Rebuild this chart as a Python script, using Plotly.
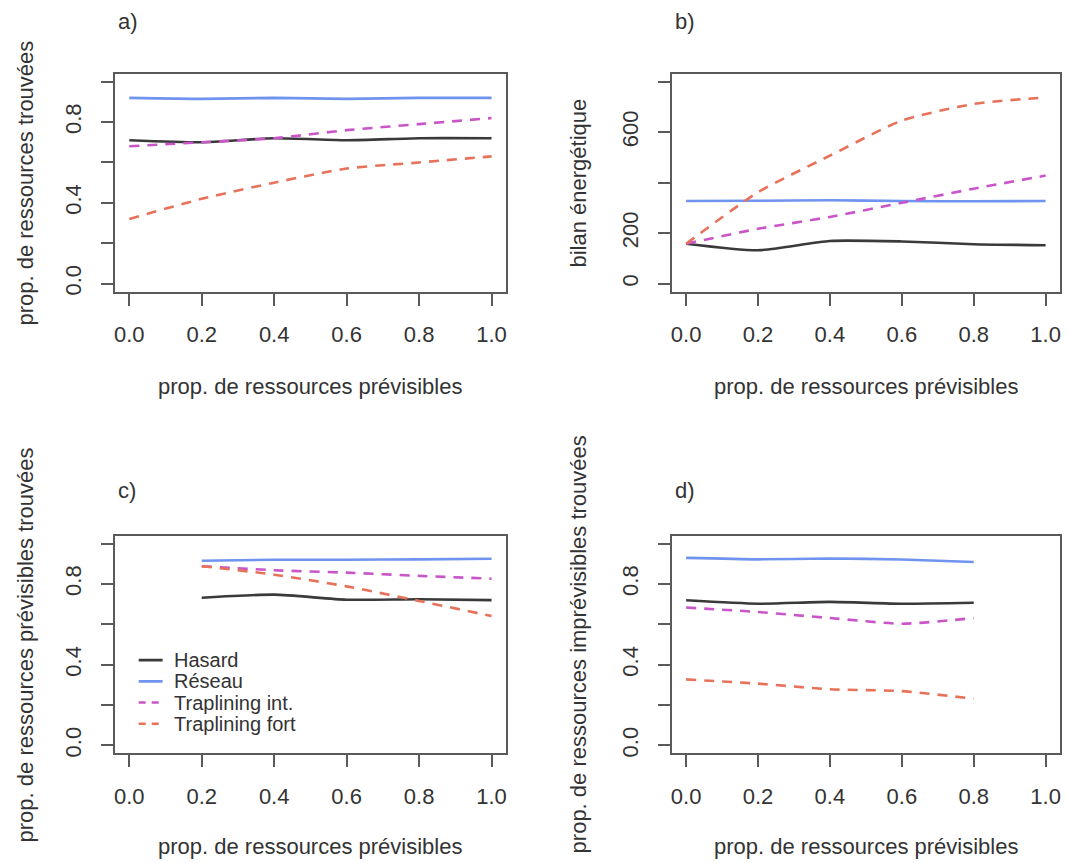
import plotly.graph_objects as go

# ---------------- data ----------------
x_full = [0.0, 0.2, 0.4, 0.6, 0.8, 1.0]
x_c = [0.2, 0.4, 0.6, 0.8, 1.0]
x_d = [0.0, 0.2, 0.4, 0.6, 0.8]

series_names = ["Hasard", "Réseau", "Traplining int.", "Traplining fort"]

# a) prop. de ressources trouvées
a_hasard = [0.71, 0.70, 0.72, 0.71, 0.72, 0.72]
a_reseau = [0.92, 0.915, 0.92, 0.915, 0.92, 0.92]
a_trap_int = [0.68, 0.70, 0.72, 0.76, 0.79, 0.82]
a_trap_fort = [0.32, 0.42, 0.50, 0.57, 0.60, 0.63]

# b) bilan énergétique
b_hasard = [158, 132, 169, 167, 156, 152]
b_reseau = [327, 328, 330, 327, 326, 327]
b_trap_int = [158, 217, 264, 320, 376, 428]
b_trap_fort = [158, 362, 507, 646, 712, 738]

# c) prop. de ressources prévisibles trouvées
c_hasard = [0.732, 0.747, 0.722, 0.724, 0.720]
c_reseau = [0.915, 0.92, 0.92, 0.922, 0.925]
c_trap_int = [0.888, 0.868, 0.856, 0.840, 0.826]
c_trap_fort = [0.888, 0.846, 0.788, 0.716, 0.641]

# d) prop. de ressources imprévisibles trouvées
d_hasard = [0.719, 0.702, 0.711, 0.702, 0.707]
d_reseau = [0.929, 0.922, 0.926, 0.921, 0.909]
d_trap_int = [0.683, 0.661, 0.631, 0.603, 0.631]
d_trap_fort = [0.327, 0.306, 0.278, 0.269, 0.231]

x_tickvals = [0.0, 0.2, 0.4, 0.6, 0.8, 1.0]
x_ticktext = ["0.0", "0.2", "0.4", "0.6", "0.8", "1.0"]
p_tickvals = [0.0, 0.2, 0.4, 0.6, 0.8, 1.0]
p_ticktext = ["0.0", "", "0.4", "", "0.8", ""]
e_tickvals = [0, 200, 400, 600, 800]
e_ticktext = ["0", "200", "", "600", ""]

x_title = "prop. de ressources prévisibles"
y_titles = ["prop. de ressources trouvées", "bilan énergétique",
            "prop. de ressources prévisibles trouvées",
            "prop. de ressources imprévisibles trouvées"]
panel_labels = ["a)", "b)", "c)", "d)"]

# ---------------- style ----------------
W, H = 1067, 863
colors = ["#3a3a3a", "#6f93ee", "#c955c8", "#e8715a"]
dashes = ["solid", "solid", "10px,8px", "10px,8px"]
FONT = "Liberation Sans, Arial, Helvetica, sans-serif"
TXT = "#333333"
FS = 22
LEG_FS = 20

fig = go.Figure()

panels = [
    (x_full, [a_hasard, a_reseau, a_trap_int, a_trap_fort], "x", "y"),
    (x_full, [b_hasard, b_reseau, b_trap_int, b_trap_fort], "x2", "y2"),
    (x_c, [c_hasard, c_reseau, c_trap_int, c_trap_fort], "x3", "y3"),
    (x_d, [d_hasard, d_reseau, d_trap_int, d_trap_fort], "x4", "y4"),
]
for xs, ys_list, xa, ya in panels:
    for name, ys, col, dash in zip(series_names, ys_list, colors, dashes):
        fig.add_trace(go.Scatter(
            x=xs, y=ys, mode="lines", name=name, showlegend=False,
            line=dict(color=col, width=2.6, dash=dash, shape="spline", smoothing=0.6),
            xaxis=xa, yaxis=ya))

# pixel boxes (left, right, top, bottom)
boxes = [(114, 506, 74, 293), (672, 1061, 74, 293),
         (114, 506, 538, 757), (672, 1061, 538, 757)]

axis_common = dict(showline=True, mirror=True, linecolor="#5a5a5a", linewidth=2,
                   ticks="outside", ticklen=12, tickwidth=1.6, tickcolor="#5a5a5a",
                   showgrid=False, zeroline=False,
                   tickfont=dict(family=FONT, size=FS, color=TXT))

layout = dict(width=W, height=H, margin=dict(l=0, r=0, t=0, b=0),
              paper_bgcolor="white", plot_bgcolor="white", showlegend=False)

for i, (l, r, t, b) in enumerate(boxes):
    sfx = "" if i == 0 else str(i + 1)
    xd = [l / W, r / W]
    yd = [1 - b / H, 1 - t / H]
    layout["xaxis" + sfx] = dict(axis_common, domain=xd, anchor="y" + sfx,
                                 range=[-0.04, 1.04], tickvals=x_tickvals,
                                 ticktext=x_ticktext, ticklabelstandoff=10)
    if i == 1:
        yv, yt, yr = e_tickvals, e_ticktext, [-32, 832]
    else:
        yv, yt, yr = p_tickvals, p_ticktext, [-0.04, 1.04]
    layout["yaxis" + sfx] = dict(axis_common, domain=yd, anchor="x" + sfx,
                                 range=yr, tickvals=yv, ticktext=yt,
                                 tickangle=-90, ticklabelstandoff=11)

fig.update_layout(**layout)

# axis titles, panel labels
annos = []
for i, (l, r, t, b) in enumerate(boxes):
    cx = (l + r) / 2
    cy = (t + b) / 2
    ytx = 25 if l < 500 else 579
    xty = 388 if i < 2 else 850
    annos.append(dict(text=x_title, x=cx / W, y=1 - xty / H, xref="paper", yref="paper",
                      xanchor="center", yanchor="middle", showarrow=False,
                      font=dict(family=FONT, size=FS, color=TXT)))
    annos.append(dict(text=y_titles[i], x=ytx / W, y=1 - cy / H, xref="paper", yref="paper",
                      xanchor="center", yanchor="middle", showarrow=False, textangle=-90,
                      font=dict(family=FONT, size=FS, color=TXT)))
    ly = 22 if i < 2 else 493
    annos.append(dict(text=panel_labels[i], x=(l + 1) / W, y=1 - ly / H, xref="paper", yref="paper",
                      xanchor="left", yanchor="middle", showarrow=False,
                      font=dict(family=FONT, size=FS, color=TXT)))

# legend inside panel c (data coordinates of panel c)
leg_y = [0.4225, 0.3175, 0.2125, 0.1075]
shapes = []
for name, col, dash, yy in zip(series_names, colors, dashes, leg_y):
    shapes.append(dict(type="line", xref="x3", yref="y3", x0=0.026, x1=0.092, y0=yy, y1=yy,
                       line=dict(color=col, width=2.6, dash=dash if dash == "solid" else "7px,6px")))
    annos.append(dict(text=name, x=0.118, y=yy, xref="x3", yref="y3",
                      xanchor="left", yanchor="middle", showarrow=False,
                      font=dict(family=FONT, size=LEG_FS, color=TXT)))

fig.update_layout(annotations=annos, shapes=shapes)
fig.write_html("out.html")
